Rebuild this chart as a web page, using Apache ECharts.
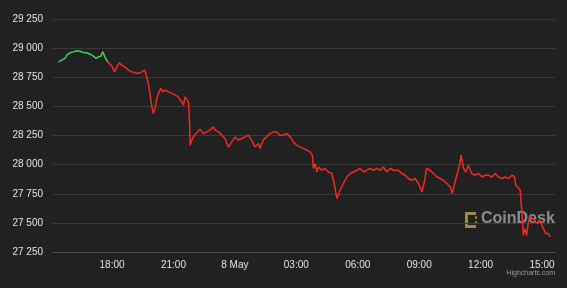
<!DOCTYPE html>
<html>
<head>
<meta charset="utf-8">
<script src="https://cdn.jsdelivr.net/npm/echarts@6/dist/echarts.min.js"></script>
<style>
html,body{margin:0;padding:0;background:#212121;}
#c{width:567px;height:288px;}
</style>
</head>
<body>
<div id="c"></div>
<script>
// Price series (BTC/USD), 7 May 15:23 -> 8 May 15:24
const times = [
'2023-05-07 15:23','2023-05-07 15:33','2023-05-07 15:42','2023-05-07 15:50','2023-05-07 15:57','2023-05-07 16:07','2023-05-07 16:17','2023-05-07 16:26','2023-05-07 16:36','2023-05-07 16:46',
'2023-05-07 16:56','2023-05-07 17:05','2023-05-07 17:13','2023-05-07 17:20','2023-05-07 17:27','2023-05-07 17:33','2023-05-07 17:39','2023-05-07 17:47','2023-05-07 17:54','2023-05-07 18:01',
'2023-05-07 18:07','2023-05-07 18:14','2023-05-07 18:21','2023-05-07 18:28','2023-05-07 18:38','2023-05-07 18:48','2023-05-07 18:58','2023-05-07 19:07','2023-05-07 19:17','2023-05-07 19:27',
'2023-05-07 19:35','2023-05-07 19:39','2023-05-07 19:45','2023-05-07 19:49','2023-05-07 19:56','2023-05-07 20:01','2023-05-07 20:06','2023-05-07 20:11','2023-05-07 20:16','2023-05-07 20:23',
'2023-05-07 20:29','2023-05-07 20:35','2023-05-07 20:45','2023-05-07 20:55','2023-05-07 21:05','2023-05-07 21:14','2023-05-07 21:24','2023-05-07 21:29','2023-05-07 21:34','2023-05-07 21:39',
'2023-05-07 21:44','2023-05-07 21:47','2023-05-07 21:49','2023-05-07 21:54','2023-05-07 21:58','2023-05-07 22:03','2023-05-07 22:10','2023-05-07 22:18','2023-05-07 22:28','2023-05-07 22:38',
'2023-05-07 22:47','2023-05-07 22:57','2023-05-07 23:02','2023-05-07 23:12','2023-05-07 23:22','2023-05-07 23:31','2023-05-07 23:41','2023-05-07 23:51','2023-05-08 00:01','2023-05-08 00:10',
'2023-05-08 00:20','2023-05-08 00:30','2023-05-08 00:40','2023-05-08 00:49','2023-05-08 00:59','2023-05-08 01:09','2023-05-08 01:14','2023-05-08 01:23','2023-05-08 01:33','2023-05-08 01:43',
'2023-05-08 01:53','2023-05-08 02:03','2023-05-08 02:12','2023-05-08 02:22','2023-05-08 02:32','2023-05-08 02:42','2023-05-08 02:51','2023-05-08 03:01','2023-05-08 03:11','2023-05-08 03:21',
'2023-05-08 03:31','2023-05-08 03:40','2023-05-08 03:47','2023-05-08 03:50','2023-05-08 03:55','2023-05-08 04:00','2023-05-08 04:05','2023-05-08 04:15','2023-05-08 04:24','2023-05-08 04:34',
'2023-05-08 04:44','2023-05-08 04:51','2023-05-08 04:59','2023-05-08 05:08','2023-05-08 05:18','2023-05-08 05:28','2023-05-08 05:38','2023-05-08 05:47','2023-05-08 05:57','2023-05-08 06:07',
'2023-05-08 06:17','2023-05-08 06:27','2023-05-08 06:36','2023-05-08 06:46','2023-05-08 06:56','2023-05-08 07:06','2023-05-08 07:15','2023-05-08 07:25','2023-05-08 07:35','2023-05-08 07:45',
'2023-05-08 07:59','2023-05-08 08:09','2023-05-08 08:19','2023-05-08 08:28','2023-05-08 08:38','2023-05-08 08:48','2023-05-08 08:58','2023-05-08 09:08','2023-05-08 09:15','2023-05-08 09:22',
'2023-05-08 09:32','2023-05-08 09:42','2023-05-08 09:52','2023-05-08 10:01','2023-05-08 10:11','2023-05-08 10:21','2023-05-08 10:31','2023-05-08 10:37','2023-05-08 10:45','2023-05-08 10:53',
'2023-05-08 11:00','2023-05-08 11:03','2023-05-08 11:10','2023-05-08 11:17','2023-05-08 11:24','2023-05-08 11:34','2023-05-08 11:44','2023-05-08 11:54','2023-05-08 12:04','2023-05-08 12:13',
'2023-05-08 12:23','2023-05-08 12:33','2023-05-08 12:43','2023-05-08 12:52','2023-05-08 13:02','2023-05-08 13:12','2023-05-08 13:22','2023-05-08 13:32','2023-05-08 13:39','2023-05-08 13:43',
'2023-05-08 13:49','2023-05-08 13:56','2023-05-08 14:01','2023-05-08 14:05','2023-05-08 14:10','2023-05-08 14:15','2023-05-08 14:20','2023-05-08 14:25','2023-05-08 14:35','2023-05-08 14:45',
'2023-05-08 14:54','2023-05-08 15:04','2023-05-08 15:11','2023-05-08 15:19','2023-05-08 15:24'
];
const prices = [
28882,28897,28912,28948,28960,28968,28977,28974,28963,28960,
28948,28931,28912,28925,28931,28968,28925,28882,28863,28839,
28796,28839,28874,28854,28839,28811,28796,28788,28783,28796,
28811,28783,28710,28654,28510,28439,28482,28568,28611,28654,
28625,28639,28625,28611,28596,28582,28539,28510,28582,28568,
28539,28367,28167,28210,28238,28224,28281,28304,28267,28281,
28296,28324,28296,28281,28253,28224,28150,28195,28238,28210,
28224,28238,28253,28210,28152,28181,28138,28210,28238,28267,
28281,28281,28253,28253,28267,28238,28195,28167,28152,28138,
28124,28109,28081,27967,28009,27937,27980,27952,27967,27937,
27924,27838,27709,27780,27838,27894,27924,27937,27952,27967,
27937,27952,27967,27952,27967,27952,27980,27937,27967,27952,
27952,27924,27909,27881,27866,27881,27838,27765,27851,27967,
27952,27924,27894,27881,27866,27838,27808,27752,27851,27937,
28023,28081,27967,27937,27995,27924,27909,27924,27894,27909,
27909,27894,27924,27894,27881,27894,27881,27909,27894,27823,
27808,27780,27594,27393,27451,27393,27508,27551,27537,27494,
27522,27451,27408,27408,27379
];
const openPrice = 28882;
const xTickTimes = ['2023-05-07 18:00','2023-05-07 21:00','2023-05-08 00:00','2023-05-08 03:00','2023-05-08 06:00','2023-05-08 09:00','2023-05-08 12:00','2023-05-08 15:00'];
const xTickLabels = ['18:00','21:00','8 May','03:00','06:00','09:00','12:00','15:00'];
const yTicks = [27250,27500,27750,28000,28250,28500,28750,29000,29250];
const xRange = ['2023-05-07 15:07','2023-05-08 15:38'];

function toTs(s){
  const [d,t] = s.split(' ');
  const [Y,M,D] = d.split('-').map(Number);
  const [h,m] = t.split(':').map(Number);
  return new Date(Y,M-1,D,h,m).getTime();
}
const data = times.map((t,i)=>[toTs(t),prices[i]]);
// split into "above open" (green) and "below open" (red) parts
let splitIdx = prices.findIndex((p,i)=>i>0 && p<openPrice) - 1;
const greenData = data.slice(0, splitIdx+1);
const redData = data.slice(splitIdx);
const tickTs = xTickTimes.map(toTs);
const fmtY = v => String(v).replace(/\B(?=(\d{3})+(?!\d))/g,' ');

const chart = echarts.init(document.getElementById('c'), null, {renderer:'canvas'});
chart.setOption({
  backgroundColor:'#212121',
  animation:false,
  grid:{left:53,right:12,top:19,bottom:36},
  xAxis:{
    type:'value',
    min:toTs(xRange[0]), max:toTs(xRange[1]),
    axisLine:{show:true,lineStyle:{color:'#505050',width:1}},
    axisTick:{show:false},
    splitLine:{show:false},
    axisLabel:{
      customValues:tickTs,
      margin:8,
      color:'#e4e4e4',
      fontFamily:'Liberation Sans, Arial, sans-serif',
      fontSize:10,
      formatter:function(v){
        let best=-1,bd=Infinity;
        tickTs.forEach((t,i)=>{const d=Math.abs(t-v); if(d<bd){bd=d;best=i;}});
        return bd<60000 ? xTickLabels[best] : '';
      }
    }
  },
  yAxis:{
    type:'value',
    min:yTicks[0], max:yTicks[yTicks.length-1], interval:250,
    axisLine:{show:false},
    axisTick:{show:false},
    splitLine:{lineStyle:{color:'#3a3a3a',width:1}},
    axisLabel:{
      margin:10,
      color:'#e4e4e4',
      fontFamily:'Liberation Sans, Arial, sans-serif',
      fontSize:10,
      formatter:fmtY
    }
  },
  graphic:[
    {type:'group',left:465,top:212,z:-1,children:[
      {type:'rect',shape:{x:0,y:0,width:3,height:16},style:{fill:'#9c8a3e'}},
      {type:'rect',shape:{x:0,y:0,width:11,height:3},style:{fill:'#9c8a3e'}},
      {type:'rect',shape:{x:0,y:13,width:11,height:3},style:{fill:'#9c8a3e'}},
      {type:'circle',shape:{cx:11,cy:5.5,r:1.3},style:{fill:'#9c8a3e'}},
      {type:'circle',shape:{cx:11,cy:10.5,r:1.3},style:{fill:'#9c8a3e'}}
    ]},
    {type:'text',left:481,top:211,z:-1,style:{text:'CoinDesk',fill:'rgba(185,185,185,0.7)',font:'bold 16px Liberation Sans, Arial, sans-serif'}},
    {type:'text',right:12,top:270,style:{text:'Highcharts.com',fill:'#9a9a9a',font:'7px Liberation Sans, Arial, sans-serif'}}
  ],
  series:[
    {type:'line',data:greenData,showSymbol:false,lineStyle:{width:1.5,color:'#3fd35a'},itemStyle:{color:'#3fd35a'},z:5},
    {type:'line',data:redData,showSymbol:false,lineStyle:{width:1.5,color:'#f02a22'},itemStyle:{color:'#f02a22'},z:5}
  ]
});
</script>
</body>
</html>
